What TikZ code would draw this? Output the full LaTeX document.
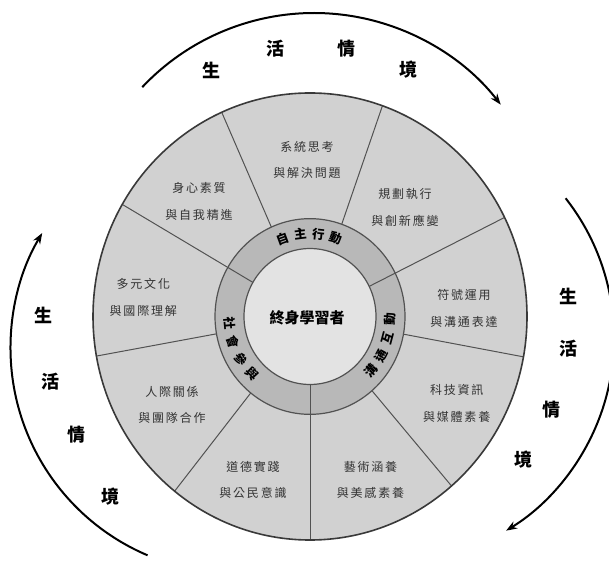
\documentclass[tikz,border=0pt]{standalone}
\usepackage{fontspec}
\newfontfamily\cjk[LetterSpace=15]{Noto Sans CJK TC}
\newfontfamily\cjkh{Noto Sans CJK TC}
\usetikzlibrary{arrows.meta}
\definecolor{sect}{gray}{0.82}
\definecolor{ringc}{gray}{0.72}
\definecolor{core}{gray}{0.89}
\definecolor{edge}{gray}{0.32}
\begin{document}
\begin{tikzpicture}[x=1pt,y=1pt,
  sectortext/.style={font={\cjk\fontsize{12}{26.5}\selectfont}, text=black!80, align=center, inner sep=0pt},
  ringtext/.style={font={\cjkh\bfseries\fontsize{12.5}{12.5}\selectfont}, inner sep=-0.5pt},
  bigchar/.style={font={\cjkh\bfseries\fontsize{18}{18}\selectfont}, inner sep=0pt},
  flow/.style={line width=2pt, -{Stealth[length=11pt,width=8pt]}}]
\useasboundingbox (0,0) rectangle (609,562);
\fill[white] (0,0) rectangle (609,562);
\coordinate (C) at (310,245.5);
\begin{scope}[shift={(C)}, yscale=1.03]
  \fill[sect] (0,0) circle (217);
  \fill[ringc] (0,0) circle (95);
  \fill[core] (0,0) circle (66);
  \foreach \a in {114,70.5,-10.4,-49.3,-128.6,-169.8}
    \draw[edge, line width=1pt] (\a:95) -- (\a:217);
  \foreach \a in {149.9,26.3,-90}
    \draw[edge, line width=1pt] (\a:66) -- (\a:217);
  \draw[edge, line width=1.2pt] (0,0) circle (95);
  \draw[edge, line width=1.2pt] (0,0) circle (66);
  \draw[edge!70!black, line width=1.6pt] (0,0) circle (217);
  \foreach \ch/\a [count=\i] in {自/110,主/97,行/84,動/71}
    \node[ringtext, rotate=\a-90] (ra\i) at (\a:80.5) {\ch};
  \foreach \ch/\a [count=\i] in {溝/-41,通/-28,互/-15,動/-2}
    \node[ringtext, rotate=\a+90] (rb\i) at (\a:80.5) {\ch};
  \foreach \ch/\a [count=\i] in {社/185,會/198,參/211,與/224}
    \node[ringtext, rotate=\a+90] (rc\i) at (\a:80.5) {\ch};
\end{scope}
\node[font={\cjkh\bfseries\fontsize{15}{15}\selectfont}, inner sep=0pt] (core) at (307,244) {終身學習者};
% sector texts
\node[sectortext] (s1) at (307,402) {系統思考\\與解決問題};
\node[sectortext] (s2) at (405,354.5) {規劃執行\\與創新應變};
\node[sectortext] (s3) at (464,253.7) {符號運用\\與溝通表達};
\node[sectortext] (s4) at (456.7,158.7) {科技資訊\\與媒體素養};
\node[sectortext] (s5) at (370.5,82) {藝術涵養\\與美感素養};
\node[sectortext] (s6) at (253,82) {道德實踐\\與公民意識};
\node[sectortext] (s7) at (172,157) {人際關係\\與團隊合作};
\node[sectortext] (s8) at (143.3,264.5) {多元文化\\與國際理解};
\node[sectortext] (s9) at (199,360.3) {身心素質\\與自我精進};
% outer flow arcs
\coordinate (TA) at (314,313);
\coordinate (RA) at (388,224);
\coordinate (LA) at (235.5,213.8);
\draw[flow] ([shift={(136.7:236)}]TA) arc[start angle=136.7, end angle=37.7, radius=236];
\draw[flow] ([shift={(38.2:226)}]RA) arc[start angle=38.2, end angle=-58.5, radius=226];
\draw[flow] ([shift={(247:225)}]LA) arc[start angle=247, end angle=149.2, radius=225];
% life context labels
\node[bigchar] (t1) at (211.7,492) {生};
\node[bigchar] (t2) at (275,513.7) {活};
\node[bigchar] (t3) at (346.7,513.7) {情};
\node[bigchar] (t4) at (408.3,492) {境};
\node[bigchar] (q1) at (568.3,265.3) {生};
\node[bigchar] (q2) at (568.3,213.7) {活};
\node[bigchar] (q3) at (551.7,152) {情};
\node[bigchar] (q4) at (523.3,102) {境};
\node[bigchar] (l1) at (43.3,247) {生};
\node[bigchar] (l2) at (50,180.3) {活};
\node[bigchar] (l3) at (76.7,127) {情};
\node[bigchar] (l4) at (110,65.3) {境};
\end{tikzpicture}
\end{document}
